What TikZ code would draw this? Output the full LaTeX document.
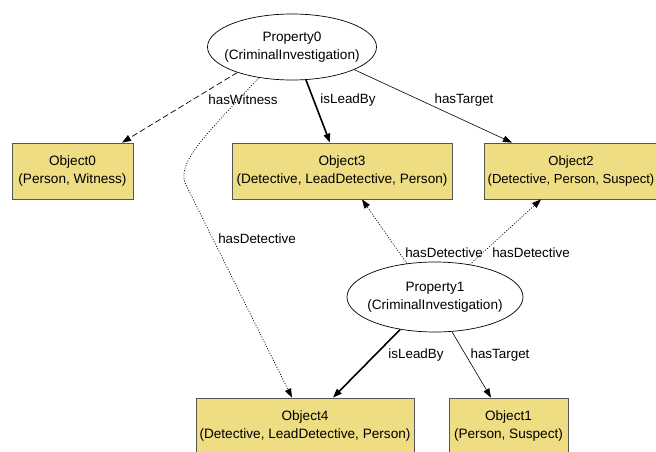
\documentclass[tikz,border=0pt]{standalone}
\usepackage{fontspec}
\setmainfont{Liberation Sans}
\usetikzlibrary{shapes.geometric,arrows.meta}
\definecolor{classfill}{RGB}{238,221,130}
\definecolor{classline}{RGB}{85,85,85}
\tikzset{
  base/.style={font=\fontsize{13.6}{18}\selectfont, align=center, inner sep=0pt},
  prop/.style={ellipse, draw=black, line width=0.7pt, fill=white, inner sep=0pt},
  obj/.style={base, rectangle, draw=classline, line width=0.8pt, fill=classfill},
  lbl/.style={font=\fontsize{13.4}{16}\selectfont, inner sep=0pt},
  tip/.style={-{Triangle[length=9pt,width=6.5pt]}},
  rel/.style={tip, line width=0.6pt},
  lead/.style={tip, line width=1.6pt},
  witness/.style={tip, line width=0.7pt, dash pattern=on 6pt off 3pt},
  detective/.style={tip, line width=0.7pt, dash pattern=on 1pt off 1.6pt},
}
\begin{document}
\begin{tikzpicture}[x=1pt, y=-1pt]
  \useasboundingbox (0,0) rectangle (656,452);
  \begin{scope}
  \clip (0,0) rectangle (656,452);

  % investigations (ellipse size fixed, text set as a centred label)
  \node[prop, minimum width=169, minimum height=66,
        label={[base]center:Property0\\(CriminalInvestigation)}] (p0) at (292,47) {};
  \node[prop, minimum width=176, minimum height=70,
        label={[base]center:Property1\\(CriminalInvestigation)}] (p1) at (435,297) {};

  % persons
  \node[obj, minimum width=121, minimum height=56] (o0) at (72.5,171)
    {Object0\\(Person, Witness)};
  \node[obj, minimum width=220, minimum height=56] (o3) at (342,171)
    {Object3\\(Detective, LeadDetective, Person)};
  \node[obj, minimum width=174, minimum height=56, font=\fontsize{13.1}{18}\selectfont]
    (o2) at (571,171) {Object2\\(Detective, Person, Suspect)};
  \node[obj, minimum width=218, minimum height=56] (o4) at (305,426)
    {Object4\\(Detective, LeadDetective, Person)};
  \node[obj, minimum width=119, minimum height=56] (o1) at (508.5,426)
    {Object1\\(Person, Suspect)};

  % relations of Property0
  \draw[witness] (p0.205.7) -- ([xshift=49.5]o0.north);
  \draw[lead] (p0.293) -- ([xshift=-12]o3.north);
  \draw[rel] (p0.340) -- ([xshift=-59]o2.north);
  \draw[detective] (p0.223) .. controls (200,140) and (176,165) .. (186,185)
    -- ([xshift=-13]o4.north);

  % relations of Property1
  \draw[detective] (p1.130.6) -- ([xshift=20]o3.south);
  \draw[detective] (p1.43.4) -- ([xshift=-30]o2.south);
  \draw[lead] (p1.223.5) -- ([xshift=28]o4.north);
  \draw[rel] (p1.296) -- ([xshift=-17.5]o1.north);

  % labels
  \node[lbl] (l1) at (243,100) {hasWitness};
  \node[lbl] (l2) at (348,100) {isLeadBy};
  \node[lbl] (l3) at (464,100) {hasTarget};
  \node[lbl] (l4) at (257,239) {hasDetective};
  \node[lbl] (l5) at (444,253) {hasDetective};
  \node[lbl] (l6) at (531,253) {hasDetective};
  \node[lbl] (l7) at (416,355) {isLeadBy};
  \node[lbl] (l8) at (500,355) {hasTarget};
  \end{scope}
\end{tikzpicture}
\end{document}
